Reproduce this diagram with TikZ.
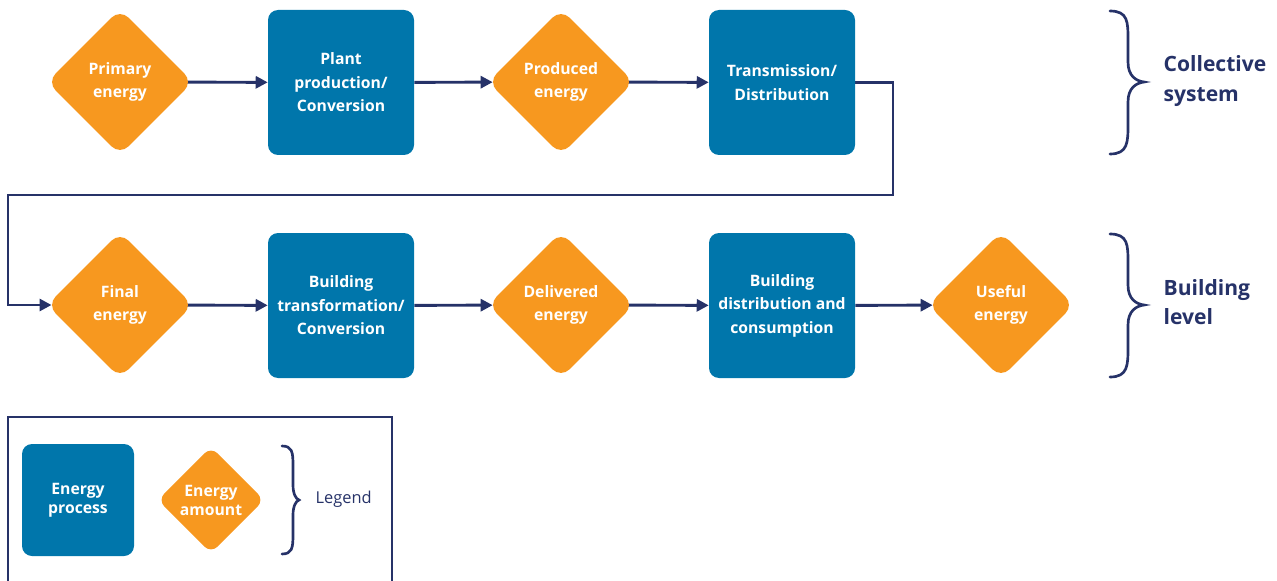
\documentclass[tikz,border=0pt]{standalone}
\usepackage{fontspec}
\setmainfont{Open Sans}
\usetikzlibrary{shapes.geometric,arrows.meta,backgrounds}
\definecolor{procblue}{HTML}{0076AB}
\definecolor{amtorange}{HTML}{F7981F}
\definecolor{navy}{HTML}{263268}
\begin{document}
\begin{tikzpicture}[x=0.75pt,y=-0.75pt,
  proc/.style={rectangle, rounded corners=7.5pt, fill=procblue, minimum width=109.5pt, minimum height=108.75pt, inner sep=0pt, text=white, align=center, font=\bfseries\fontsize{11.8}{17.6}\selectfont},
  amt/.style={diamond, aspect=1, rounded corners=9pt, fill=amtorange, minimum width=109.5pt, minimum height=109.5pt, inner sep=0pt, text=white, align=center, font=\bfseries\fontsize{11.8}{17.6}\selectfont},
  conn/.style={draw=navy, line width=2.2pt, line join=miter, -{Triangle[length=9pt,width=9pt]}},
  toamt/.style={shorten >=-3.6pt},
  fromamt/.style={shorten <=-6pt},
  bracestyle/.style={draw=navy, line width=2pt, line cap=round},
  grouplabel/.style={text=navy, align=left, anchor=west, font=\bfseries\fontsize{15.8}{21.8}\selectfont},
]
\useasboundingbox (0,0) rectangle (1277,581);
% row 1
\node[amt]  (prim)  at (120,82) {Primary\\energy};
\node[proc] (plant) at (341,82.5) {Plant\\production/\\Conversion};
\node[amt]  (prod)  at (561,82) {Produced\\energy};
\node[proc] (trans) at (782,82.5) {Transmission/\\Distribution};
% row 2
\node[amt]  (final) at (120,305) {Final\\energy};
\node[proc] (btrans) at (341,305.5) {Building\\transformation/\\Conversion};
\node[amt]  (deliv) at (561,305) {Delivered\\energy};
\node[proc] (bdist) at (782,305.5) {Building\\distribution and\\consumption};
\node[amt]  (useful) at (1001,305) {Useful\\energy};
% connectors
\coordinate (c1) at (893,195);
\coordinate (c2) at (8,195);
\begin{scope}[on background layer]
\draw[conn,fromamt] (prim) -- (plant);
\draw[conn,toamt] (plant) -- (prod);
\draw[conn,fromamt] (prod) -- (trans);
\draw[conn,toamt] (trans.east) -| (c1) -- (c2) |- (final.west);
\draw[conn,fromamt] (final) -- (btrans);
\draw[conn,toamt] (btrans) -- (deliv);
\draw[conn,fromamt] (deliv) -- (bdist);
\draw[conn,toamt] (bdist) -- (useful);
\end{scope}
% braces
\draw[bracestyle] (1110,11) .. controls (1128,11) and (1128,22) .. (1128,40) -- (1128,62) .. controls (1128,76) and (1136,81) .. (1144,82) .. controls (1136,83) and (1128,88) .. (1128,102) -- (1128,124) .. controls (1128,142) and (1128,154) .. (1110,154);
\node[grouplabel] (coll) at (1159,81) {Collective\\system};
\draw[bracestyle] (1110,234) .. controls (1128,234) and (1128,245) .. (1128,263) -- (1128,285) .. controls (1128,299) and (1136,304) .. (1144,305) .. controls (1136,306) and (1128,311) .. (1128,325) -- (1128,347) .. controls (1128,365) and (1128,377) .. (1110,377);
\node[grouplabel] (bldg) at (1159,302) {Building\\level};
% legend
\draw[draw=navy, line width=2pt] (8,590) -- (8,417) -- (392,417) -- (392,590);
\node[proc, minimum width=84pt, minimum height=84pt, font=\bfseries\fontsize{11.8}{14.3}\selectfont] (lproc) at (78,500) {Energy\\process};
\node[amt, minimum width=80pt, minimum height=80pt, rounded corners=7pt, font=\bfseries\fontsize{11.8}{14.3}\selectfont] (lamt) at (211,500) {Energy\\amount};
\draw[bracestyle] (282,446) .. controls (292,446) and (293,452) .. (293,465) -- (293,485) .. controls (293,494) and (296,499) .. (299,500) .. controls (296,501) and (293,506) .. (293,515) -- (293,535) .. controls (293,548) and (292,554) .. (282,554);
\node[text=navy, anchor=west, font=\fontsize{12.3}{14}\selectfont] (leg) at (311,499) {Legend};
\end{tikzpicture}
\end{document}
